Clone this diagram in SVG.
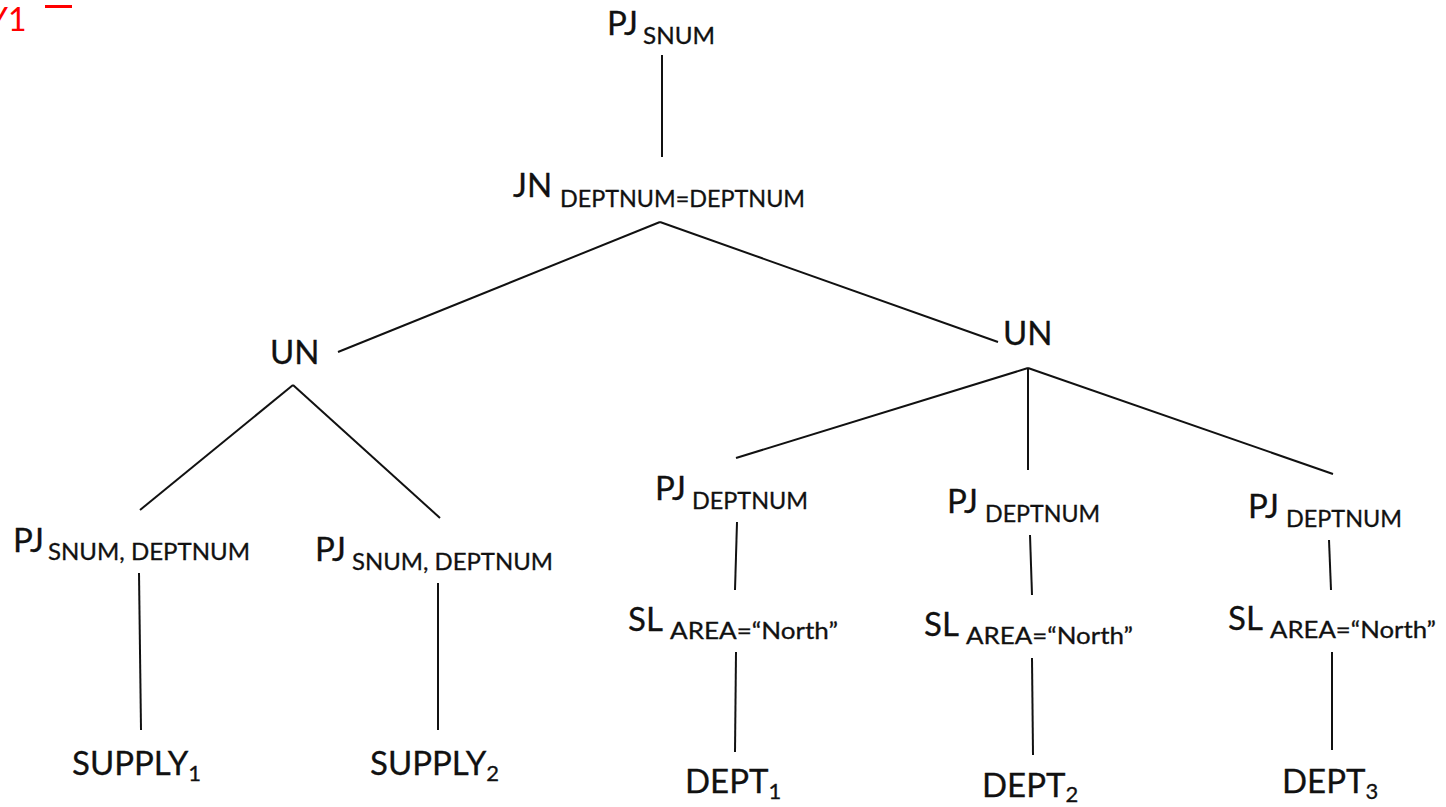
<svg xmlns="http://www.w3.org/2000/svg" width="1446" height="807" viewBox="0 0 1446 807">
  <style>
    text { font-family: Lato, "Open Sans", sans-serif; fill: #111; stroke: #111; stroke-width: 0.3; }
    .op { font-size: 33px; }
    .sub { font-size: 23px; }
    .idx { font-size: 22px; }
    .edge { stroke: #111; stroke-width: 2; fill: none; }
  </style>
  <rect width="1446" height="807" fill="#fff"/>

  <!-- annotation mark, top left -->
  <g id="mark">
    <text x="-12" y="31" font-size="32" style="fill:#f00;stroke:none">Y1</text>
    <rect x="45" y="5" width="27" height="3" fill="#f00"/>
  </g>

  <g id="connectors">
    <line class="edge" x1="662" y1="55" x2="662" y2="157"/>
    <line class="edge" x1="660" y1="222" x2="338" y2="352"/>
    <line class="edge" x1="660" y1="222" x2="998" y2="342"/>
    <line class="edge" x1="293" y1="385" x2="140" y2="510"/>
    <line class="edge" x1="293" y1="385" x2="440" y2="518"/>
    <line class="edge" x1="1028" y1="368" x2="736" y2="458"/>
    <line class="edge" x1="1028" y1="368" x2="1028" y2="470"/>
    <line class="edge" x1="1028" y1="368" x2="1333" y2="474"/>
    <line class="edge" x1="737" y1="522" x2="735" y2="590"/>
    <line class="edge" x1="736" y1="652" x2="735" y2="752"/>
    <line class="edge" x1="1030" y1="535" x2="1032" y2="595"/>
    <line class="edge" x1="1032" y1="658" x2="1033" y2="755"/>
    <line class="edge" x1="1329" y1="540" x2="1331" y2="590"/>
    <line class="edge" x1="1332" y1="652" x2="1332" y2="750"/>
    <line class="edge" x1="139" y1="573" x2="141" y2="730"/>
    <line class="edge" x1="438" y1="583" x2="438" y2="730"/>
  </g>

  <g id="pj-snum"><text class="op" x="607" y="35">PJ</text><text class="sub" x="643" y="44" textLength="72" lengthAdjust="spacingAndGlyphs">SNUM</text></g>
  <g id="jn"><text class="op" x="513" y="197">JN</text><text class="sub" x="560" y="207" textLength="245" lengthAdjust="spacingAndGlyphs">DEPTNUM=DEPTNUM</text></g>
  <g id="un-left"><text class="op" x="270" y="364">UN</text></g>
  <g id="un-right"><text class="op" x="1003" y="345">UN</text></g>

  <g id="pj-supply1"><text class="op" x="13" y="552">PJ</text><text class="sub" x="48" y="560" textLength="202" lengthAdjust="spacingAndGlyphs">SNUM, DEPTNUM</text></g>
  <g id="pj-supply2"><text class="op" x="315" y="561">PJ</text><text class="sub" x="352" y="570" textLength="201" lengthAdjust="spacingAndGlyphs">SNUM, DEPTNUM</text></g>

  <g id="pj-dept1"><text class="op" x="655" y="500">PJ</text><text class="sub" x="692" y="509" textLength="116" lengthAdjust="spacingAndGlyphs">DEPTNUM</text></g>
  <g id="pj-dept2"><text class="op" x="947" y="513">PJ</text><text class="sub" x="985" y="522" textLength="115" lengthAdjust="spacingAndGlyphs">DEPTNUM</text></g>
  <g id="pj-dept3"><text class="op" x="1248" y="518">PJ</text><text class="sub" x="1286" y="527" textLength="116" lengthAdjust="spacingAndGlyphs">DEPTNUM</text></g>

  <g id="sl-dept1"><text class="op" x="628" y="631">SL</text><text class="sub" x="670" y="639" textLength="168" lengthAdjust="spacingAndGlyphs">AREA=“North”</text></g>
  <g id="sl-dept2"><text class="op" x="924" y="636">SL</text><text class="sub" x="966" y="644" textLength="167" lengthAdjust="spacingAndGlyphs">AREA=“North”</text></g>
  <g id="sl-dept3"><text class="op" x="1228" y="630">SL</text><text class="sub" x="1270" y="638" textLength="166" lengthAdjust="spacingAndGlyphs">AREA=“North”</text></g>

  <g id="supply1"><text class="op" x="72" y="775">SUPPLY<tspan class="idx" dy="6">1</tspan></text></g>
  <g id="supply2"><text class="op" x="370" y="775">SUPPLY<tspan class="idx" dy="6">2</tspan></text></g>
  <g id="dept1"><text class="op" x="685" y="793">DEPT<tspan class="idx" dy="6">1</tspan></text></g>
  <g id="dept2"><text class="op" x="982" y="797">DEPT<tspan class="idx" dy="5">2</tspan></text></g>
  <g id="dept3"><text class="op" x="1282" y="793">DEPT<tspan class="idx" dy="6">3</tspan></text></g>
</svg>
